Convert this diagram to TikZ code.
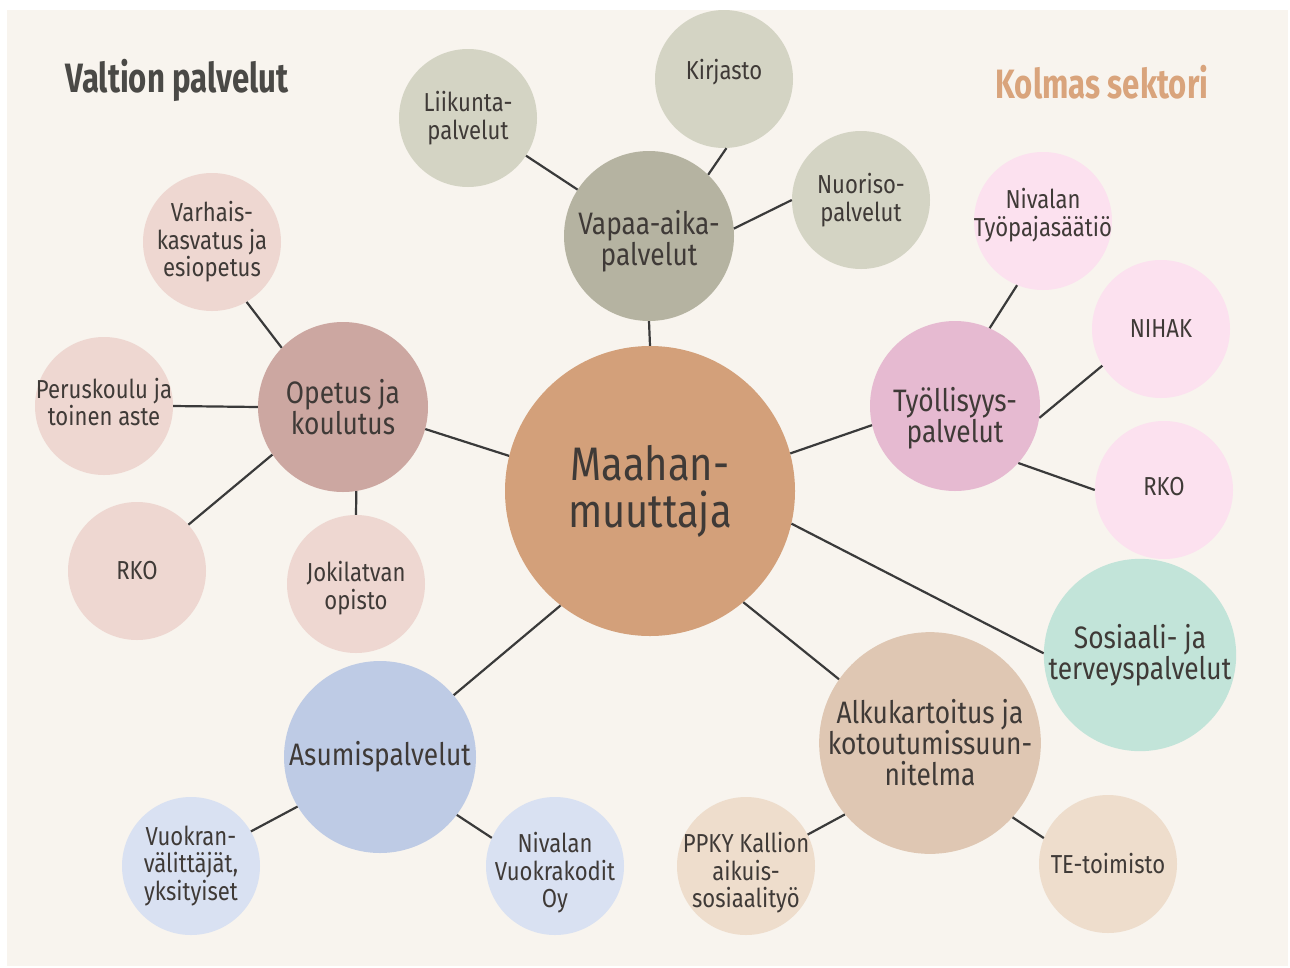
\documentclass[tikz,border=0pt]{standalone}
\usepackage{fontspec}
\setmainfont[FakeStretch=0.85]{Fira Sans}
\newfontfamily\titlefont[FakeStretch=0.76]{Fira Sans}
\definecolor{bg}{HTML}{F8F4EE}
\definecolor{txt}{HTML}{3F3A37}
\definecolor{linec}{HTML}{3A3A3A}
\definecolor{cMaa}{HTML}{D3A07A}
\definecolor{cVap}{HTML}{B5B3A1}
\definecolor{cVapS}{HTML}{D4D4C4}
\definecolor{cOpe}{HTML}{CCA7A1}
\definecolor{cOpeS}{HTML}{EED7D1}
\definecolor{cTyo}{HTML}{E6BAD1}
\definecolor{cTyoS}{HTML}{FCE1EF}
\definecolor{cSos}{HTML}{C2E4D9}
\definecolor{cAlk}{HTML}{DFC7B3}
\definecolor{cAlkS}{HTML}{EEDDCC}
\definecolor{cAsu}{HTML}{BECBE5}
\definecolor{cAsuS}{HTML}{D9E1F2}
\definecolor{tGray}{HTML}{4A4946}
\definecolor{tOra}{HTML}{D9A47C}
\tikzset{
  bub/.style={circle, inner sep=0pt, align=center, text=txt},
  big/.style={bub, minimum size=290pt, fill=cMaa, font=\fontsize{47}{47}\selectfont},
  mid/.style={bub, minimum size=170pt, font=\fontsize{31}{31}\selectfont},
  sub/.style={bub, minimum size=138pt, font=\fontsize{26}{27.5}\selectfont},
  midlbl/.style={inner sep=0pt, align=center, text=txt, font=\fontsize{31}{31}\selectfont},
  sublbl/.style={inner sep=0pt, align=center, text=txt, font=\fontsize{26}{27.5}\selectfont},
  link/.style={draw=linec, line width=2.2pt},
  ttl/.style={inner sep=0pt, font=\titlefont\bfseries\fontsize{41}{46}\selectfont}
}
\begin{document}
\begin{tikzpicture}[x=1pt, y=-1pt]
\useasboundingbox (0,0) rectangle (1290,967);
\fill[white] (0,0) rectangle (1290,967);
\fill[bg] (7,10) rectangle (1288,966);

% titles
\node[ttl, text=tGray] (vt) at (177,80) {Valtion palvelut};
\node[ttl, text=tOra] (kt) at (1102,82) {Kolmas sektori};

% center
\node[big] (maa) at (650,491) {Maahan-\\muuttaja};

% Vapaa-aika
\node[mid, fill=cVap, label={[midlbl, yshift=-5pt]center:{Vapaa-aika-\\palvelut}}] (vap) at (649,236) {};
\node[sub, fill=cVapS] (lii) at (468,118) {Liikunta-\\palvelut};
\node[sub, fill=cVapS, label={[sublbl, yshift=7pt]center:Kirjasto}] (kir) at (724,79) {};
\node[sub, fill=cVapS] (nuo) at (861,200) {Nuoriso-\\palvelut};

% Opetus
\node[mid, fill=cOpe] (ope) at (343,407) {Opetus ja\\koulutus};
\node[sub, fill=cOpeS] (var) at (212,242) {Varhais-\\kasvatus ja\\esiopetus};
\node[sub, fill=cOpeS, label={[sublbl, yshift=4pt]center:{Peruskoulu ja\\toinen aste}}] (per) at (104,406) {};
\node[sub, fill=cOpeS] (rkoa) at (137,571) {RKO};
\node[sub, fill=cOpeS, label={[sublbl, yshift=-4pt]center:{Jokilatvan\\opisto}}] (jok) at (356,584) {};

% Tyollisyys
\node[mid, fill=cTyo, label={[midlbl, yshift=-12pt]center:{Työllisyys-\\palvelut}}] (tyo) at (955,406) {};
\node[sub, fill=cTyoS, label={[sublbl, yshift=6pt]center:{Nivalan\\Työpajasäätiö}}] (niv) at (1043,221) {};
\node[sub, fill=cTyoS] (nih) at (1161,329) {NIHAK};
\node[sub, fill=cTyoS, label={[sublbl, yshift=3pt]center:RKO}] (rkob) at (1164,490) {};

% Sosiaali
\node[bub, minimum size=186pt, fill=cSos, font=\fontsize{31}{31}\selectfont] (sos) at (1140,655) {Sosiaali- ja\\terveyspalvelut};

% Alkukartoitus
\node[bub, minimum size=220pt, fill=cAlk, font=\fontsize{31}{31}\selectfont] (alk) at (930,743) {Alkukartoitus ja\\kotoutumissuun-\\nitelma};
\node[sub, fill=cAlkS, label={[sublbl, yshift=-7pt]center:{PPKY Kallion\\aikuis-\\sosiaalityö}}] (ppk) at (746,866) {};
\node[sub, fill=cAlkS] (te) at (1108,864) {TE-toimisto};

% Asumis
\node[bub, minimum size=192pt, fill=cAsu, font=\fontsize{31}{31}\selectfont] (asu) at (380,757) {Asumispalvelut};
\node[sub, fill=cAsuS] (vuo) at (191,866) {Vuokran-\\välittäjät,\\yksityiset};
\node[sub, fill=cAsuS, label={[sublbl, yshift=-7pt]center:{Nivalan\\Vuokrakodit\\Oy}}] (nvk) at (555,866) {};

% connectors
\draw[link] (maa.90) -- (vap.270);
\draw[link] (maa.166.5) -- (ope.-15);
\draw[link] (maa.15) -- (tyo.-167);
\draw[link] (maa.-13) -- (sos.179);
\draw[link] (maa.-50) -- (alk.145);
\draw[link] (maa.-128) -- (asu.40);

\draw[link] (vap.147) -- (lii.-33);
\draw[link] (vap.46) -- (kir.-88);
\draw[link] (vap.5) -- (nuo.180);

\draw[link] (ope.136) -- (var.-60);
\draw[link] (ope.180) -- (per.0);
\draw[link] (ope.-146) -- (rkoa.42);
\draw[link] (ope.-81) -- (jok.90);

\draw[link] (tyo.66) -- (niv.-112);
\draw[link] (tyo.-8) -- (nih.-148);
\draw[link] (tyo.-42) -- (rkob.180);

\draw[link] (alk.-140) -- (ppk.27);
\draw[link] (alk.-42) -- (te.158);

\draw[link] (asu.-149) -- (vuo.30);
\draw[link] (asu.-37) -- (nvk.156);
\end{tikzpicture}
\end{document}
